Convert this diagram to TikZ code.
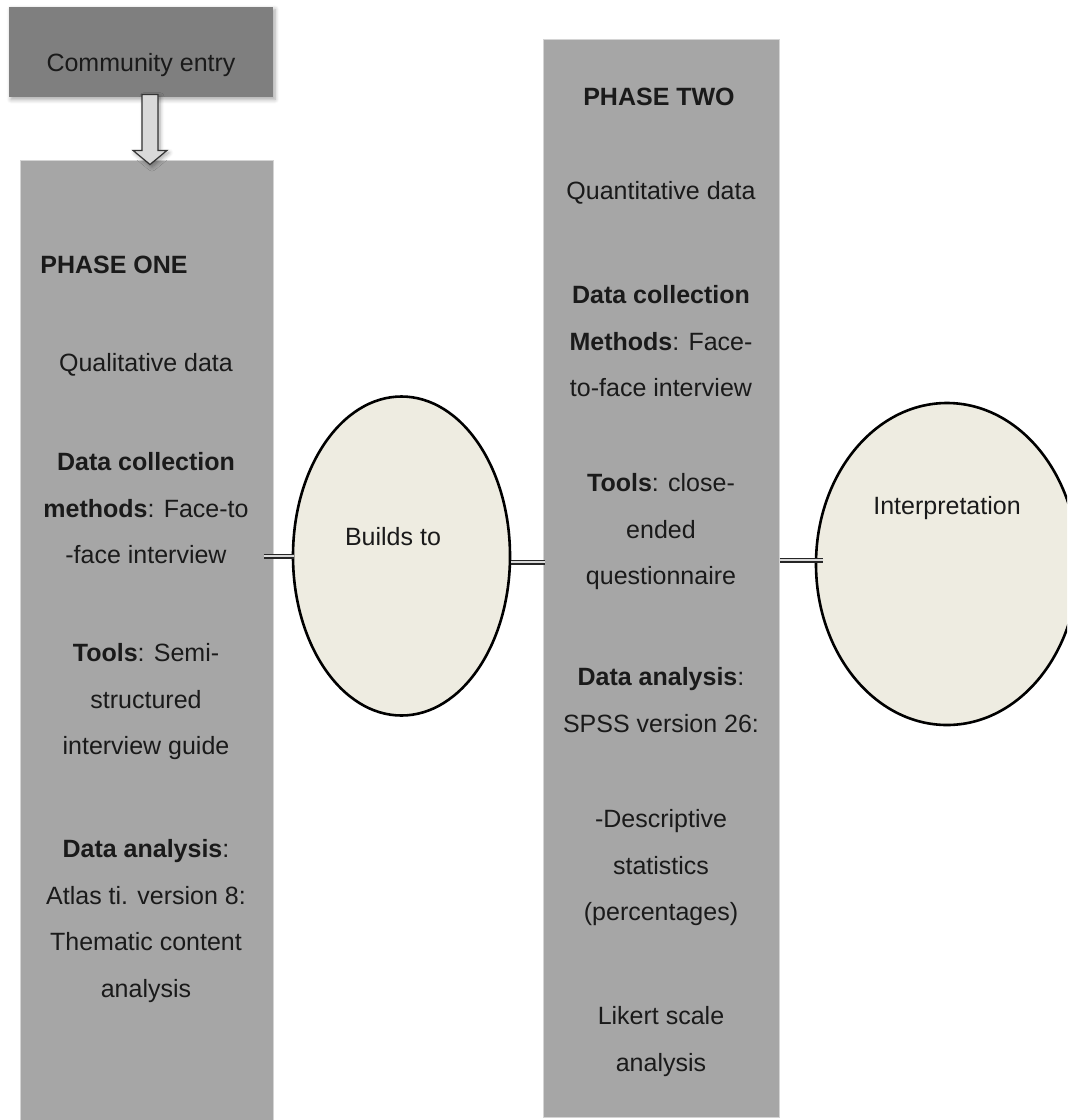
\documentclass[tikz,border=0pt]{standalone}
\usepackage{fontspec}
\setmainfont{Liberation Sans}
\usetikzlibrary{shapes.geometric,calc,shadows.blur}

\definecolor{entrygray}{HTML}{7F7F7F}
\definecolor{phasegray}{HTML}{A6A6A6}
\definecolor{phaseedge}{HTML}{D4D4D4}
\definecolor{ovalfill}{HTML}{EEECE1}
\definecolor{inkgray}{HTML}{1A1A1A}
\definecolor{arrowfill}{HTML}{D9D9D9}

\begin{document}
\begin{tikzpicture}[x=0.5pt,y=-0.5pt,
  every node/.style={text=inkgray, font=\fontsize{12.5}{23.25}\selectfont},
  phasebox/.style={draw=phaseedge, line width=0.5pt, fill=phasegray, inner sep=0pt},
  oval/.style={ellipse, draw=black, line width=1.3pt, fill=ovalfill, inner sep=0pt},
  para/.style={align=center, inner sep=0pt},
  linkarrow/.style={draw=black!85, line width=0.6pt, double=arrowfill, double distance=1.3pt},
  softshadow/.style={blur shadow={shadow xshift=1pt, shadow yshift=-1.2pt, shadow blur steps=6, shadow opacity=35}},
  ]
\clip (0,0) rectangle (1067,1120);

% boxes
\node[draw=none, fill=entrygray, inner sep=0pt, minimum width=132pt, minimum height=45pt, softshadow] (entry) at (141,52) {};
\node[phasebox, minimum width=126.5pt, minimum height=484pt] (p1) at (146.5,644) {};
\node[phasebox, minimum width=118pt, minimum height=539pt] (p2) at (661,578) {};

% ovals
\node[oval, minimum width=108.5pt, minimum height=159.5pt] (builds) at (401.5,556) {};
\node[oval, minimum width=131pt, minimum height=161pt] (interp) at (947,564) {};

% block arrow from community entry down to phase one
\draw[black!80, line width=0.6pt, fill=arrowfill, softshadow]
  ($(entry.south)+(1,-3)$) -- ($(entry.south)+(17,-3)$) -- ($(entry.south)+(17,53)$)
  -- ($(entry.south)+(26,53)$) -- ($(p1.north)+(3.5,5)$) -- ($(entry.south)+(-8,53)$)
  -- ($(entry.south)+(1,53)$) -- cycle;

% thin connectors between the columns
\draw[linkarrow] ([xshift=-5pt]p1.east |- builds.west) -- ([xshift=1pt]builds.west);
\draw[linkarrow] ([yshift=-3pt]builds.east) -- ([yshift=-3pt,xshift=1pt]builds.east -| p2.west);
\draw[linkarrow] ([yshift=2pt]p2.east |- interp.west) -- ([yshift=2pt,xshift=4pt]interp.west);

% labels
\node[para] (entrytxt) at (141,65) {Community entry};
\node[para] (buildstxt) at (393,537) {Builds to};
\node[para] (interptxt) at (947,508) {Interpretation};

% phase one text
\node[para, anchor=west] (ph1) at (40,265) {\textbf{PHASE ONE}};
\node[para] (ph1a) at (146,365) {Qualitative data};
\node[para] (ph1b) at (146,508.5) {\textbf{Data collection}\\\textbf{methods}: Face-to\\-face interview};
\node[para] (ph1c) at (146,702) {\textbf{Tools}: Semi-\\structured\\interview guide};
\node[para] (ph1d) at (146,921) {\textbf{Data analysis}:\\Atlas ti. version 8:\\Thematic content\\analysis};

% phase two text
\node[para] (ph2) at (659,97) {\textbf{PHASE TWO}};
\node[para] (ph2a) at (661,193) {Quantitative data};
\node[para] (ph2b) at (661,341.5) {\textbf{Data collection}\\\textbf{Methods}: Face-\\to-face interview};
\node[para] (ph2c) at (661,532) {\textbf{Tools}: close-\\ended\\questionnaire};
\node[para] (ph2d) at (661,700) {\textbf{Data analysis}:\\SPSS version 26:};
\node[para] (ph2e) at (661,868) {-Descriptive\\statistics\\(percentages)};
\node[para] (ph2f) at (661,1041.5) {Likert scale\\analysis};
\end{tikzpicture}
\end{document}
